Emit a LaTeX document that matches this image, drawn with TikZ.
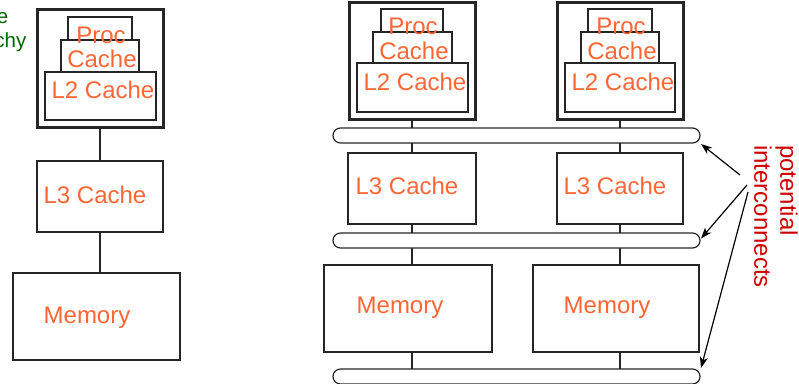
\documentclass[tikz,border=0pt]{standalone}
\usepackage{fontspec}
\setmainfont{Liberation Sans}
\usetikzlibrary{positioning, arrows.meta, calc}
\definecolor{cachetxt}{HTML}{FF6633}
\definecolor{notetxt}{HTML}{CC0000}
\definecolor{titletxt}{HTML}{006600}
\tikzset{
  base/.style={draw=black!85, line width=1.2pt, inner sep=0pt, outer sep=0pt},
  unit/.style={base, rectangle, line width=3pt},
  lvl/.style={base, rectangle},
  bus/.style={base, rectangle, rounded corners=7.5pt, minimum width=367pt, minimum height=15pt},
  lbl/.style={text=cachetxt, inner sep=0pt, anchor=base, font=\fontsize{24}{26}\selectfont},
  ttl/.style={text=titletxt, inner sep=0pt, anchor=base east, font=\fontsize{20.5}{24}\selectfont},
  wire/.style={draw=black!85, line width=1.2pt},
  arrow/.style={-{Stealth[length=11pt, width=8pt, inset=3pt]}, draw=black, line width=1.2pt},
}
\begin{document}
\begin{tikzpicture}[x=1pt, y=-1pt]
\useasboundingbox (0,0) rectangle (799,383);
\clip (0,0) rectangle (799,383);

%% ====================  LEFT: SINGLE HIERARCHY  ====================

\node[ttl] (ttl_a) at (8.5,23) {e};
\node[ttl] (ttl_b) at (26.5,47) {chy};

\node[unit, minimum width=126pt, minimum height=118pt] (u_L) at (100,68) {};
\node[lvl, minimum width=64pt, minimum height=23pt] (proc_L) at (100,28.5) {};
\node[lvl, minimum width=78pt, minimum height=32pt] (c1_L) at (100,56) {};
\node[lvl, minimum width=111pt, minimum height=48pt] (l2_L) at (100.5,96) {};
\node[lbl] at (101,43) {Proc};
\node[lbl] at (102,67) {Cache};
\node[lbl] at (103,98) {L2 Cache};

\node[lvl, minimum width=126pt, minimum height=71pt] (l3_L) at (100,196.5) {};
\node[lbl] at (95,203) {L3 Cache};

\node[lvl, minimum width=167pt, minimum height=87pt] (mem_L) at (96.5,316.5) {};
\node[lbl] at (87,323) {Memory};

%% ====================  RIGHT: SHARED HIERARCHY  ====================

%% Processor units
\node[unit, minimum width=126pt, minimum height=117pt] (u_A) at (412,60.5) {};
\node[lvl, minimum width=62pt, minimum height=23pt] (proc_A) at (412,20.5) {};
\node[lvl, minimum width=79pt, minimum height=31pt] (c1_A) at (412.5,47.5) {};
\node[lvl, minimum width=111pt, minimum height=49pt] (l2_A) at (412.5,87.5) {};
\node[lbl] at (413,34) {Proc};
\node[lbl] at (414,59) {Cache};
\node[lbl] at (415,90) {L2 Cache};

\node[unit, minimum width=126pt, minimum height=117pt] (u_B) at (620,60.5) {};
\node[lvl, minimum width=64pt, minimum height=23pt] (proc_B) at (620,20.5) {};
\node[lvl, minimum width=78pt, minimum height=31pt] (c1_B) at (620,47.5) {};
\node[lvl, minimum width=110pt, minimum height=49pt] (l2_B) at (620,87.5) {};
\node[lbl] at (621,34) {Proc};
\node[lbl] at (622,59) {Cache};
\node[lbl] at (623,90) {L2 Cache};

%% Buses
\node[bus] (bus1) at (516.5,135.5) {};
\node[bus] (bus2) at (516.5,240.5) {};
\node[bus] (bus3) at (516.5,376.5) {};

%% L3 and memory
\node[lvl, minimum width=128pt, minimum height=71pt] (l3_A) at (412,188.5) {};
\node[lvl, minimum width=126pt, minimum height=71pt] (l3_B) at (620,188.5) {};
\node[lbl] at (407,194) {L3 Cache};
\node[lbl] at (615,194) {L3 Cache};

\node[lvl, minimum width=168pt, minimum height=87pt] (mem_A) at (408,308.5) {};
\node[lvl, minimum width=166pt, minimum height=87pt] (mem_B) at (616,308.5) {};
\node[lbl] at (400,313) {Memory};
\node[lbl] at (607,313) {Memory};

%% Note
\node[text=notetxt, inner sep=0pt, rotate=-90, anchor=north west, align=left,
      font=\fontsize{24}{26}\selectfont] (note) at (798,145) {potential\\interconnects};
\coordinate (src1) at (740,175);
\coordinate (src2) at (747,185);
\coordinate (src3) at (748,192);

%% ====================  WIRES  ====================

%% Left
\draw[wire] (u_L.south) -- (l3_L.north);
\draw[wire] (l3_L.south) -- (l3_L.south |- mem_L.north);

%% Right, column A
\draw[wire] (u_A.south) -- (u_A.south |- bus1.north);
\draw[wire] (bus1.south -| l3_A.north) -- (l3_A.north);
\draw[wire] (l3_A.south) -- (l3_A.south |- bus2.north);
\draw[wire] (bus2.south -| l3_A) -- (l3_A |- mem_A.north);
\draw[wire] (l3_A |- mem_A.south) -- (l3_A |- bus3.north);

%% Right, column B
\draw[wire] (u_B.south) -- (u_B.south |- bus1.north);
\draw[wire] (bus1.south -| l3_B.north) -- (l3_B.north);
\draw[wire] (l3_B.south) -- (l3_B.south |- bus2.north);
\draw[wire] (bus2.south -| l3_B) -- (l3_B |- mem_B.north);
\draw[wire] (l3_B |- mem_B.south) -- (l3_B |- bus3.north);

%% Note arrows
\draw[arrow] (src1) -- ([xshift=1pt, yshift=-1pt]bus1.south east);
\draw[arrow] (src2) -- ([xshift=1pt, yshift=2pt]bus2.east);
\draw[arrow] (src3) -- ([xshift=1pt, yshift=1pt]bus3.north east);

\end{tikzpicture}
\end{document}
